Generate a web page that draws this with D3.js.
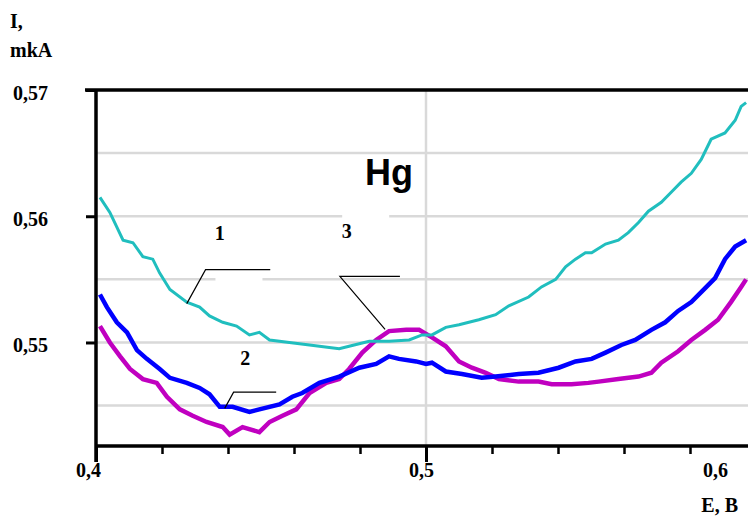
<!DOCTYPE html>
<html>
<head>
<meta charset="utf-8">
<script src="https://cdn.jsdelivr.net/npm/d3@7"></script>
<style>
  html, body { margin: 0; padding: 0; background: #fff; }
  svg { display: block; }
  .lbl { font-family: "Liberation Serif", "Times New Roman", serif; font-weight: bold; font-size: 20px; fill: #000; }
</style>
</head>
<body>
<div id="chart"></div>
<script>
// curve 1 (cyan)
const e1 = [0.4012, 0.4042, 0.4082, 0.4112, 0.4142, 0.4172, 0.4193, 0.4224, 0.4275, 0.4314, 0.4344, 0.4384, 0.4426, 0.4465, 0.4495, 0.4526, 0.4586, 0.4647, 0.4707, 0.4737, 0.4767, 0.4828, 0.4888, 0.4949, 0.4988, 0.5018, 0.5060, 0.5100, 0.5160, 0.5211, 0.5251, 0.5311, 0.5350, 0.5393, 0.5423, 0.5453, 0.5483, 0.5502, 0.5544, 0.5583, 0.5613, 0.5644, 0.5674, 0.5713, 0.5743, 0.5773, 0.5804, 0.5834, 0.5864, 0.5906, 0.5937, 0.5955, 0.5970];
const i1 = [0.5615, 0.5603, 0.5581, 0.5579, 0.5568, 0.5566, 0.5555, 0.5542, 0.5532, 0.5528, 0.5521, 0.5516, 0.5513, 0.5506, 0.5508, 0.5502, 0.5500, 0.5498, 0.5496, 0.5495, 0.5497, 0.5501, 0.5501, 0.5502, 0.5506, 0.5506, 0.5512, 0.5514, 0.5518, 0.5522, 0.5529, 0.5536, 0.5544, 0.5550, 0.5560, 0.5566, 0.5571, 0.5571, 0.5578, 0.5581, 0.5587, 0.5595, 0.5604, 0.5611, 0.5619, 0.5627, 0.5634, 0.5645, 0.5661, 0.5666, 0.5676, 0.5687, 0.5690];

// curve 2 (blue)
const e2 = [0.4012, 0.4033, 0.4063, 0.4094, 0.4124, 0.4154, 0.4193, 0.4224, 0.4275, 0.4314, 0.4344, 0.4375, 0.4414, 0.4465, 0.4495, 0.4556, 0.4595, 0.4625, 0.4677, 0.4737, 0.4798, 0.4849, 0.4888, 0.4918, 0.4970, 0.5000, 0.5018, 0.5060, 0.5109, 0.5169, 0.5211, 0.5281, 0.5341, 0.5402, 0.5453, 0.5502, 0.5544, 0.5592, 0.5634, 0.5683, 0.5725, 0.5764, 0.5804, 0.5846, 0.5876, 0.5906, 0.5937, 0.5970];
const i2 = [0.5538, 0.5528, 0.5516, 0.5508, 0.5494, 0.5487, 0.5479, 0.5472, 0.5468, 0.5464, 0.5459, 0.5449, 0.5449, 0.5445, 0.5447, 0.5451, 0.5457, 0.5460, 0.5468, 0.5473, 0.5480, 0.5483, 0.5489, 0.5487, 0.5485, 0.5483, 0.5484, 0.5477, 0.5475, 0.5472, 0.5473, 0.5475, 0.5476, 0.5480, 0.5485, 0.5487, 0.5492, 0.5498, 0.5502, 0.5510, 0.5516, 0.5525, 0.5532, 0.5543, 0.5551, 0.5566, 0.5576, 0.5581];

// curve 3 (magenta)
const e3 = [0.4012, 0.4042, 0.4073, 0.4103, 0.4142, 0.4184, 0.4215, 0.4254, 0.4293, 0.4335, 0.4384, 0.4405, 0.4444, 0.4495, 0.4526, 0.4565, 0.4607, 0.4647, 0.4698, 0.4737, 0.4767, 0.4807, 0.4849, 0.4888, 0.4940, 0.4979, 0.5018, 0.5060, 0.5100, 0.5139, 0.5181, 0.5221, 0.5281, 0.5341, 0.5381, 0.5441, 0.5492, 0.5523, 0.5583, 0.5644, 0.5683, 0.5713, 0.5764, 0.5804, 0.5846, 0.5885, 0.5924, 0.5955, 0.5970];
const i3 = [0.5513, 0.5500, 0.5489, 0.5479, 0.5471, 0.5468, 0.5457, 0.5447, 0.5442, 0.5437, 0.5433, 0.5427, 0.5433, 0.5429, 0.5437, 0.5442, 0.5447, 0.5460, 0.5468, 0.5471, 0.5479, 0.5492, 0.5502, 0.5509, 0.5510, 0.5510, 0.5504, 0.5497, 0.5485, 0.5480, 0.5476, 0.5471, 0.5469, 0.5469, 0.5467, 0.5467, 0.5468, 0.5469, 0.5471, 0.5473, 0.5476, 0.5484, 0.5493, 0.5502, 0.5510, 0.5518, 0.5532, 0.5544, 0.5550];

const xTicks = [0.4, 0.5, 0.6];
const xMinor = [0.42, 0.44, 0.46, 0.48, 0.52, 0.54, 0.56, 0.58];
const yTicks = [0.55, 0.56, 0.57];
const yGrid = [0.545, 0.55, 0.555, 0.56, 0.565];

// curve labels and their leader lines, in data units
const curveLabels = ["1", "2", "3"];
const labelPos = [[0.4375, 0.5587], [0.4452, 0.5488], [0.4760, 0.5588]];
const leaders = [
  [[0.4528, 0.55577], [0.4332, 0.55577], [0.4275, 0.55308]],
  [[0.4546, 0.54607], [0.4417, 0.54607], [0.4390, 0.54478]],
  [[0.4921, 0.55524], [0.4739, 0.55524], [0.4876, 0.55103]]
];

const W = 748, H = 517;
const x = d3.scaleLinear([0.4, 0.6], [96, 756]);
const y = d3.scaleLinear([0.5418, 0.57], [446, 90]);
const fmt = d => d3.format(".2~f")(d).replace(".", ",");

const svg = d3.select("#chart").append("svg")
  .attr("width", W).attr("height", H)
  .attr("viewBox", [0, 0, W, H]);

svg.append("defs").append("clipPath").attr("id", "plot")
  .append("rect").attr("x", 96).attr("y", 88).attr("width", W - 96).attr("height", 360);

// gridlines
svg.append("g")
  .selectAll("line")
  .data(yGrid)
  .join("line")
  .attr("x1", x(0.4)).attr("x2", W)
  .attr("y1", d => y(d)).attr("y2", d => y(d))
  .attr("stroke", "#d9d9d9").attr("stroke-width", 2.5);

svg.append("line")
  .attr("x1", x(0.5)).attr("x2", x(0.5))
  .attr("y1", y(0.57)).attr("y2", y.range()[0])
  .attr("stroke", "#d9d9d9").attr("stroke-width", 2.5);

// white boxes behind the curve labels
svg.append("rect").attr("x", x(0.4362)).attr("y", y(0.5555)).attr("width", 47).attr("height", 12).attr("fill", "#fff");
svg.append("rect").attr("x", x(0.4746)).attr("y", y(0.5606)).attr("width", 47).attr("height", 12).attr("fill", "#fff");

// curves
const line = d3.line().x(d => x(d[0])).y(d => y(d[1]));
const series = [
  {e: e3, i: i3, color: "#c000c0", w: 4.5},
  {e: e2, i: i2, color: "#0000ff", w: 4.5},
  {e: e1, i: i1, color: "#20bebe", w: 3}
];
svg.append("g")
  .attr("clip-path", "url(#plot)")
  .selectAll("path")
  .data(series)
  .join("path")
  .attr("fill", "none")
  .attr("stroke", d => d.color)
  .attr("stroke-width", d => d.w)
  .attr("stroke-linejoin", "miter")
  .attr("d", d => line(d.e.map((v, k) => [v, d.i[k]])));

// leader lines
svg.append("g")
  .selectAll("path")
  .data(leaders)
  .join("path")
  .attr("fill", "none")
  .attr("stroke", "#000")
  .attr("stroke-width", 1.2)
  .attr("d", line);

svg.append("g")
  .selectAll("text")
  .data(curveLabels)
  .join("text")
  .attr("class", "lbl")
  .attr("x", (d, k) => x(labelPos[k][0]))
  .attr("y", (d, k) => y(labelPos[k][1]))
  .attr("text-anchor", "middle")
  .attr("dy", "0.35em")
  .text(d => d);

svg.append("text")
  .attr("x", x(0.4888)).attr("y", y(0.5635))
  .attr("text-anchor", "middle").attr("dy", "0.36em")
  .attr("font-family", "'Liberation Sans Narrow', 'Liberation Sans', Arial, sans-serif")
  .attr("font-weight", "bold").attr("font-size", 36)
  .text("Hg");

// top frame
svg.append("line")
  .attr("x1", 85).attr("x2", W)
  .attr("y1", y(0.57)).attr("y2", y(0.57))
  .attr("stroke", "#000").attr("stroke-width", 3.5);

// x axis
const xAxis = svg.append("g")
  .attr("transform", `translate(0,${y.range()[0]})`);
xAxis.append("g")
  .call(d3.axisBottom(x).tickValues(xMinor).tickSize(8).tickFormat(""))
  .call(g => g.select(".domain").remove())
  .selectAll("line").attr("stroke-width", 2.5);
xAxis.append("g")
  .call(d3.axisBottom(x).tickValues(xTicks).tickSize(16).tickPadding(1).tickFormat(fmt))
  .call(g => g.select(".domain").attr("d", `M${x(0.4)},0H${W}`).attr("stroke-width", 3.5))
  .call(g => g.selectAll("line").attr("stroke-width", 3))
  .call(g => g.selectAll("text").attr("class", "lbl").attr("dx", -5))
  .call(g => g.selectAll(".tick").filter(d => d === 0.6).select("text").attr("dx", -41))
  .call(g => g.selectAll(".tick").filter(d => d === 0.4).select("text").attr("dx", -8));

// y axis
svg.append("g")
  .attr("transform", `translate(${x(0.4)},0)`)
  .call(d3.axisLeft(y).tickValues(yTicks).tickSize(10).tickPadding(38).tickFormat(fmt))
  .call(g => g.select(".domain").attr("d", `M0,${y(0.57)}V${y.range()[0] + 16}`).attr("stroke-width", 3.5))
  .call(g => g.selectAll("line").attr("stroke-width", 3))
  .call(g => g.selectAll("text").attr("class", "lbl").attr("dy", "0.45em"));

// axis titles
svg.append("text").attr("class", "lbl").attr("x", 10).attr("y", 28).text("I,");
svg.append("text").attr("class", "lbl").attr("x", 10).attr("y", 57).text("mkA");
svg.append("text").attr("class", "lbl").attr("x", 738).attr("y", 512).attr("text-anchor", "end").text("E, B");
</script>
</body>
</html>
